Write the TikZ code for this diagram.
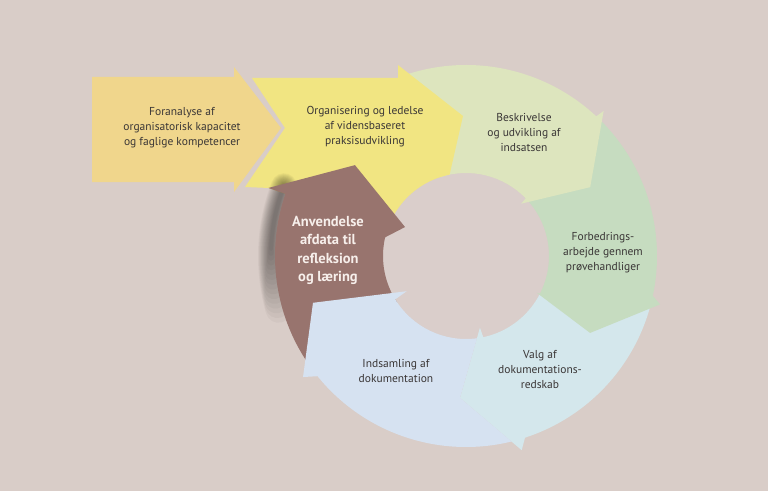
\documentclass[tikz,border=0pt]{standalone}
\usepackage{fontspec}
\setmainfont{PT Sans}
\usetikzlibrary{calc}
\definecolor{bgc}{HTML}{D9CDC8}
\definecolor{holec}{HTML}{DACECB}
\definecolor{orc}{HTML}{F0D68C}
\definecolor{yec}{HTML}{F1E582}
\definecolor{lgc}{HTML}{DDE5BE}
\definecolor{gnc}{HTML}{C6DCC0}
\definecolor{lbc}{HTML}{D4E7EC}
\definecolor{blc}{HTML}{D6E2F1}
\definecolor{brc}{HTML}{98746E}
\definecolor{txtc}{HTML}{3A3636}
\definecolor{wtxt}{HTML}{F7EFEB}
\begin{document}
\begin{tikzpicture}[x=1pt,y=1pt,
  txt/.style={align=center, text=txtc, font=\fontsize{11.5}{15}\selectfont},
  btxt/.style={align=center, text=wtxt, font=\bfseries\fontsize{14.5}{18.5}\selectfont}]
\fill[bgc] (0,0) rectangle (768,491);
\useasboundingbox (0,0) rectangle (768,491);
\coordinate (C) at (466,235);
% hole
\fill[holec] (C) circle[radius=83];
% orange straight arrow
\fill[orc] (92,414) -- (234,414) -- (234,424) -- (281,363) -- (234,299) -- (234,309) -- (92,309) -- cycle;
% light blue (Valg)
\fill[lbc] ($(C)+(-12:191)$) arc[start angle=-12,end angle=-72,radius=191]
  -- ($(C)+(-74:202)$) -- ($(C)+(-92.4:142)$) -- ($(C)+(-79:73)$) -- ($(C)+(-78:83)$)
  arc[start angle=-78,end angle=-27,radius=83] -- cycle;
% green (Forbedrings)
\fill[gnc] ($(C)+(45:191)$) arc[start angle=45,end angle=-12,radius=191]
  -- ($(C)+(-14:200)$) -- ($(C)+(-31.8:146)$) -- ($(C)+(-27.5:80)$) -- ($(C)+(-27:83)$)
  arc[start angle=-27,end angle=45,radius=83] -- cycle;
% light green (Beskrivelse)
\fill[lgc] ($(C)+(108:191)$) arc[start angle=108,end angle=47,radius=191]
  -- ($(C)+(46.5:200)$) -- ($(C)+(29:142)$) -- ($(C)+(43.5:76)$) -- ($(C)+(44:83)$)
  arc[start angle=44,end angle=108,radius=83] -- cycle;
% yellow straight arrow
\fill[yec] (252,413) -- (398,413) -- (398,426) -- (463,375) -- ($(C)+(101.4:83)$)
  arc[start angle=101.4,end angle=150,radius=83] -- (300,286)
  -- ($(C)+(161:191)$) -- ($(C)+(161:209)$) -- (245,304) -- (285,363) -- cycle;
% soft shadow of the brown arrow
\foreach \i in {0,...,15} {
  \pgfmathsetmacro\w{26-1.5*\i}
  \pgfmathsetmacro\a{196-1.2*\i}
  \draw[line width=\w pt, black, opacity=0.03, line cap=round] ($(C)+(\a:195)$) arc[start angle=\a,end angle=159,radius=195];
}
% brown arrow
\fill[brc] ($(C)+(214:191)$) arc[start angle=214,end angle=161,radius=191]
  -- ($(C)+(161:209)$) -- ($(C)+(140.7:143.5)$) -- ($(C)+(154.6:67.5)$) -- ($(C)+(167:83)$)
  arc[start angle=167,end angle=214,radius=83] -- cycle;
% blue (Indsamling), tail notched along the light blue head
\fill[blc] ($(C)+(-92.4:142)$) -- ($(C)+(-76.2:191)$) arc[start angle=-76.2,end angle=-141,radius=191]
  -- ($(C)+(-143.4:203)$) -- ($(C)+(197:160)$) -- ($(C)+(-149.3:69)$) -- ($(C)+(-148.5:83)$)
  arc[start angle=-148.5,end angle=-82.4,radius=83] -- cycle;
% texts
\node[txt] (t1) at (182,363) {Foranalyse af\\organisatorisk kapacitet\\og faglige kompetencer};
\node[txt] (t2) at (365,364) {Organisering og ledelse\\af vidensbaseret\\praksisudvikling};
\node[txt] (t3) at (524,359) {Beskrivelse\\og udvikling af\\indsatsen};
\node[txt] (t4) at (603,238) {Forbedrings-\\arbejde gennem\\prøvehandliger};
\node[txt] (t5) at (540,121) {Valg af\\dokumentations-\\redskab};
\node[txt] (t6) at (396,120.5) {Indsamling af\\dokumentation};
\node[btxt] (t7) at (328,240.5) {Anvendelse\\afdata til\\refleksion\\og læring};
\end{tikzpicture}
\end{document}
